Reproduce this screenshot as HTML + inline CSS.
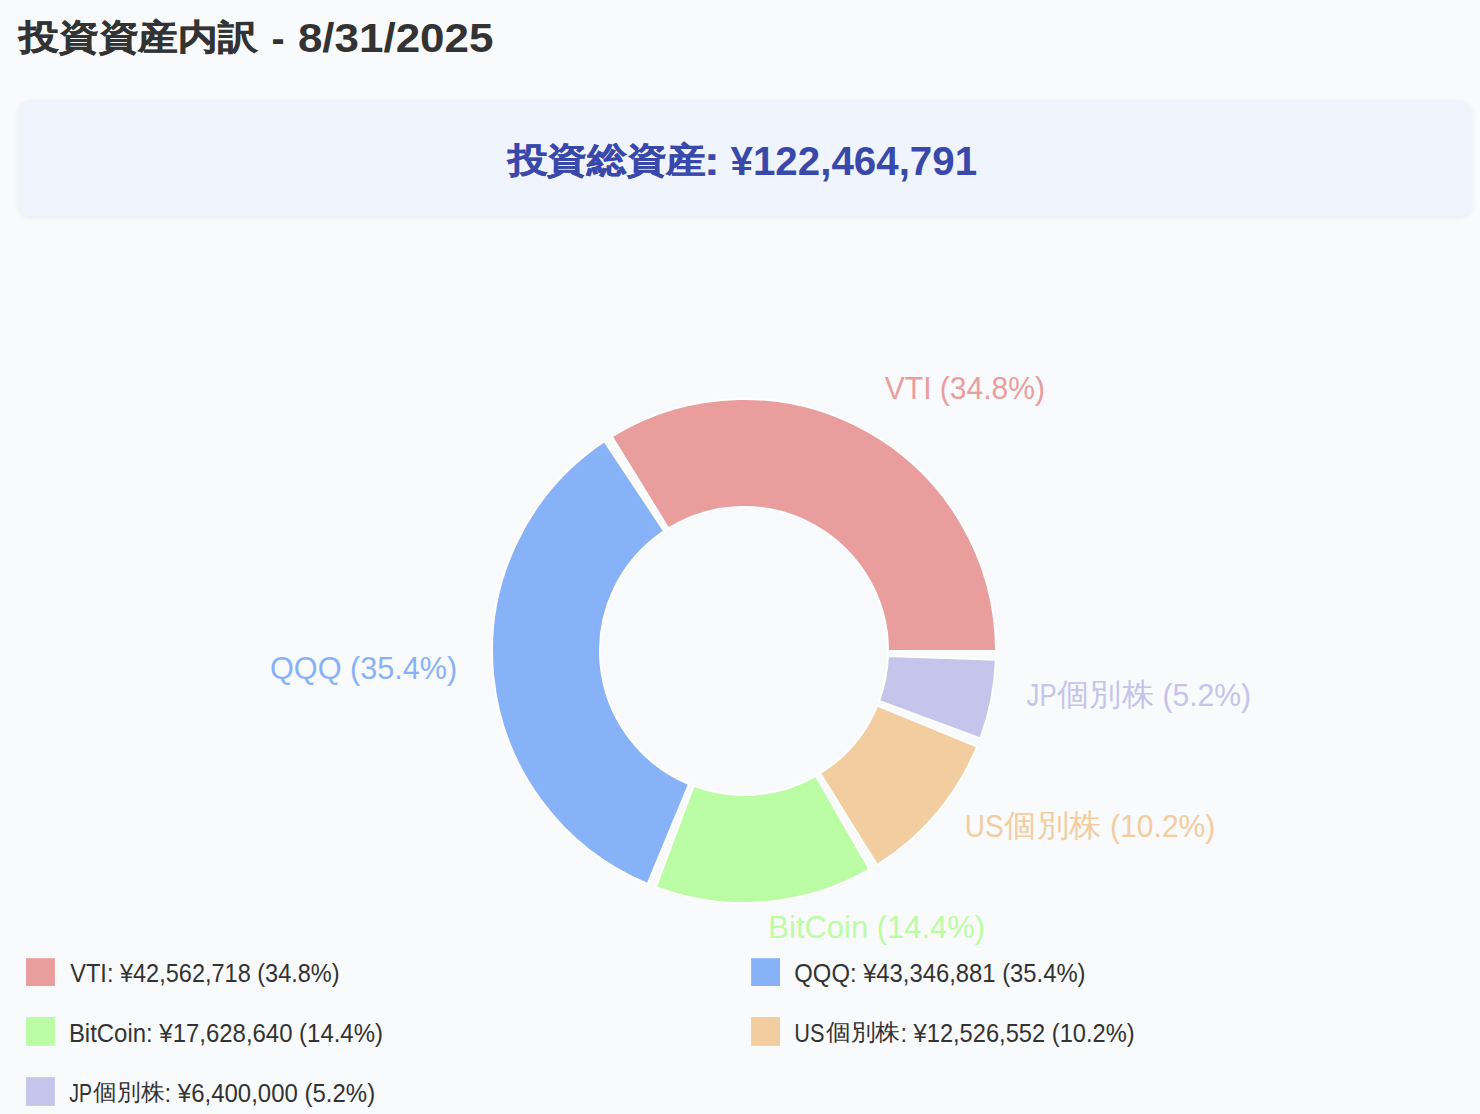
<!DOCTYPE html>
<html lang="ja"><head><meta charset="utf-8"><title>投資資産内訳 - 8/31/2025</title>
<style>
html,body{margin:0;padding:0}
body{width:1480px;height:1114px;overflow:hidden;background:#f9fafb;position:relative;font-family:"Liberation Sans",sans-serif;color:#333}
.box{position:absolute;left:17.5px;top:100.2px;width:1454px;height:115.6px;border-radius:12.5px;background:#f0f4fd;box-shadow:0 2px 5px rgba(0,0,0,0.06)}
svg{position:absolute;left:0;top:0}
svg text{font-family:"Liberation Sans",sans-serif;white-space:pre}
</style></head><body>
<div class="box"></div>
<svg width="1480" height="1114" viewBox="0 0 1480 1114">
<g stroke="#fff" stroke-width="2">
<path d="M996.00,651.00A252.0,252.0,0,0,0,611.80,436.46L668.45,528.41A144.0,144.0,0,0,1,888.00,651.00Z" fill="#e99d9d"/>
<path d="M604.39,441.21A252.0,252.0,0,0,0,647.67,883.86L688.96,784.06A144.0,144.0,0,0,1,664.22,531.12Z" fill="#88b2f7"/>
<path d="M655.86,887.08A252.0,252.0,0,0,0,869.65,869.44L815.80,775.82A144.0,144.0,0,0,1,693.63,785.90Z" fill="#bbfda4"/>
<path d="M877.20,864.92A252.0,252.0,0,0,0,977.17,746.59L877.24,705.62A144.0,144.0,0,0,1,820.11,773.24Z" fill="#f2cda0"/>
<path d="M980.36,738.39A252.0,252.0,0,0,0,995.85,659.79L887.91,656.03A144.0,144.0,0,0,1,879.06,700.94Z" fill="#c5c4eb"/>
</g>
<rect x="26" y="958.2" width="28.9" height="27.8" fill="#e99d9d"/>
<rect x="751.1" y="958.2" width="28.9" height="27.8" fill="#88b2f7"/>
<rect x="26" y="1017" width="28.9" height="28.9" fill="#bbfda4"/>
<rect x="751.1" y="1017" width="28.9" height="28.9" fill="#f2cda0"/>
<rect x="26" y="1077.2" width="28.9" height="28.7" fill="#c5c4eb"/>
<text x="19.14" y="48.6" font-size="35.35" font-weight="bold" fill="#333" stroke="#333" stroke-width="0.5" textLength="238.36" lengthAdjust="spacingAndGlyphs">投資資産内訳</text>
<text x="271.52" y="52" font-size="40" font-weight="bold" fill="#333" textLength="13.09" lengthAdjust="spacingAndGlyphs">-</text>
<text x="297.9" y="52.3" font-size="40" font-weight="bold" fill="#333" textLength="195.55" lengthAdjust="spacingAndGlyphs">8/31/2025</text>
<text x="507.63" y="172.2" font-size="34.6" font-weight="bold" fill="#3949ab" stroke="#3949ab" stroke-width="0.5" textLength="198.4" lengthAdjust="spacingAndGlyphs">投資総資産</text>
<text x="703.73" y="175" font-size="40" font-weight="bold" fill="#3949ab" textLength="16.22" lengthAdjust="spacingAndGlyphs">:</text>
<text x="730.5" y="175" font-size="40" font-weight="bold" fill="#3949ab" textLength="246.59" lengthAdjust="spacingAndGlyphs">¥122,464,791</text>
<text x="884.8" y="398.8" font-size="32" fill="#e99d9d" textLength="160.11" lengthAdjust="spacingAndGlyphs">VTI (34.8%)</text>
<text x="270.04" y="678.6" font-size="32" fill="#88b2f7" textLength="187.2" lengthAdjust="spacingAndGlyphs">QQQ (35.4%)</text>
<text x="1026.6" y="705.7" font-size="32" fill="#c5c4eb" textLength="29.98" lengthAdjust="spacingAndGlyphs">JP</text>
<text x="1057.3" y="704.9" font-size="31.07" fill="#c5c4eb" textLength="96.44" lengthAdjust="spacingAndGlyphs">個別株</text>
<text x="1162.52" y="705.7" font-size="32" fill="#c5c4eb" textLength="88.59" lengthAdjust="spacingAndGlyphs">(5.2%)</text>
<text x="964.85" y="836.9" font-size="32" fill="#f2cda0" textLength="38.82" lengthAdjust="spacingAndGlyphs">US</text>
<text x="1004.3" y="835.9" font-size="30.76" fill="#f2cda0" textLength="96.84" lengthAdjust="spacingAndGlyphs">個別株</text>
<text x="1110.12" y="836.9" font-size="32" fill="#f2cda0" textLength="105.2" lengthAdjust="spacingAndGlyphs">(10.2%)</text>
<text x="768.37" y="937.5" font-size="32" fill="#bbfda4" textLength="216.76" lengthAdjust="spacingAndGlyphs">BitCoin (14.4%)</text>
<text x="70.3" y="981.9" font-size="25" fill="#333" textLength="269.32" lengthAdjust="spacingAndGlyphs">VTI: ¥42,562,718 (34.8%)</text>
<text x="794.35" y="981.9" font-size="25" fill="#333" textLength="291.17" lengthAdjust="spacingAndGlyphs">QQQ: ¥43,346,881 (35.4%)</text>
<text x="68.88" y="1042" font-size="25" fill="#333" textLength="314.07" lengthAdjust="spacingAndGlyphs">BitCoin: ¥17,628,640 (14.4%)</text>
<text x="794.36" y="1041.9" font-size="25" fill="#333" textLength="30.18" lengthAdjust="spacingAndGlyphs">US</text>
<text x="825.7" y="1040.1" font-size="22.9" fill="#333" textLength="74.48" lengthAdjust="spacingAndGlyphs">個別株</text>
<text x="900.41" y="1041.9" font-size="25" fill="#333" textLength="234.22" lengthAdjust="spacingAndGlyphs">: ¥12,526,552 (10.2%)</text>
<text x="69.2" y="1101.9" font-size="25" fill="#333" textLength="22.72" lengthAdjust="spacingAndGlyphs">JP</text>
<text x="93.3" y="1100.1" font-size="22.9" fill="#333" textLength="71.13" lengthAdjust="spacingAndGlyphs">個別株</text>
<text x="164.48" y="1101.9" font-size="25" fill="#333" textLength="210.65" lengthAdjust="spacingAndGlyphs">: ¥6,400,000 (5.2%)</text>
</svg>
</body></html>
